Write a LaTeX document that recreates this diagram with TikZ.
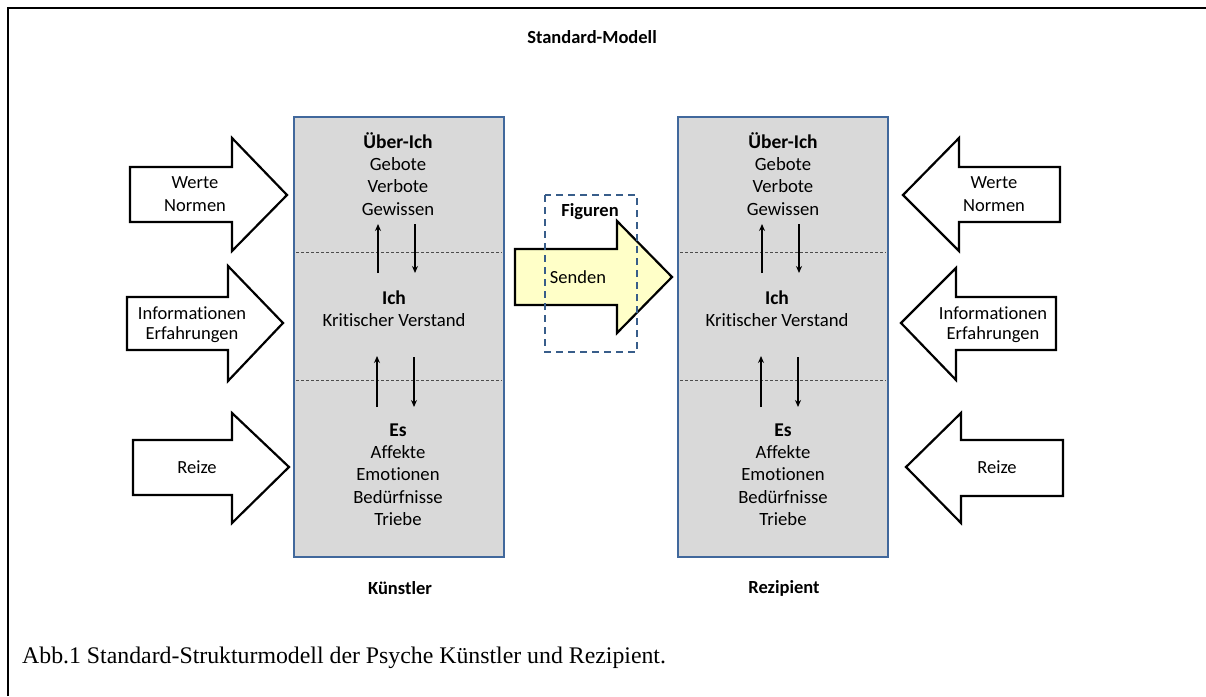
\documentclass[tikz,border=0pt]{standalone}
\usepackage{fontspec}
\usetikzlibrary{arrows.meta}
\setmainfont{Carlito}[Ligatures=NoCommon]
\newfontfamily\capfont{Liberation Serif}
\definecolor{boxfill}{HTML}{D9D9D9}
\definecolor{boxline}{HTML}{41689C}
\definecolor{dashline}{HTML}{385D8A}
\definecolor{sendfill}{HTML}{FFFFC8}
\begin{document}
\begin{tikzpicture}[x=1pt,y=-1pt,
  psybox/.style={draw=boxline,fill=boxfill,line width=2.5pt},
  sep/.style={draw=black!70,dashed,line width=0.7pt,dash pattern=on 3pt off 2pt},
  blockarrow/.style={draw=black,fill=white,line width=2.2pt,line join=miter},
  sendarrow/.style={draw=black,fill=sendfill,line width=2.2pt,line join=miter},
  small/.style={-{Stealth[length=7pt,width=6pt]},line width=1.3pt},
  txt/.style={font=\fontsize{18.7}{22}\selectfont,inner sep=0pt},
  btxt/.style={font=\fontsize{19.5}{22}\selectfont\bfseries,inner sep=0pt},
  atxt/.style={font=\fontsize{18.5}{22}\selectfont,inner sep=0pt},
  ltxt/.style={font=\fontsize{18.5}{22}\selectfont\bfseries,inner sep=0pt}]
\useasboundingbox (0,0) rectangle (1206,696);
% frame
\draw[line width=2pt] (8,696) -- (8,8) -- (1206,8);
\node[ltxt] (title) at (592,37) {Standard-Modell};
% boxes
\path[psybox] (294,117) rectangle (504,557);
\path[psybox] (678,117) rectangle (888,557);
\draw[sep] (296,252) -- (502,252);
\draw[sep] (296,380) -- (502,380);
\draw[sep] (680,252) -- (886,252);
\draw[sep] (680,380) -- (886,380);
% left box texts
\node[btxt] (lu) at (398,141) {Über-Ich};
\node[txt] (lu1) at (398,164) {Gebote};
\node[txt] (lu2) at (398,186) {Verbote};
\node[txt] (lu3) at (398,209) {Gewissen};
\node[btxt] (li) at (394,298) {Ich};
\node[txt] (li1) at (394,320) {Kritischer Verstand};
\node[btxt] (le) at (398,430) {Es};
\node[txt] (le1) at (398,452) {Affekte};
\node[txt] (le2) at (398,474) {Emotionen};
\node[txt] (le3) at (398,497) {Bedürfnisse};
\node[txt] (le4) at (398,519) {Triebe};
% right box texts
\node[btxt] (ru) at (783,141) {Über-Ich};
\node[txt] (ru1) at (783,164) {Gebote};
\node[txt] (ru2) at (783,186) {Verbote};
\node[txt] (ru3) at (783,209) {Gewissen};
\node[btxt] (ri) at (777,298) {Ich};
\node[txt] (ri1) at (777,320) {Kritischer Verstand};
\node[btxt] (re) at (783,430) {Es};
\node[txt] (re1) at (783,452) {Affekte};
\node[txt] (re2) at (783,474) {Emotionen};
\node[txt] (re3) at (783,497) {Bedürfnisse};
\node[txt] (re4) at (783,519) {Triebe};
% small arrows
\coordinate (a1s) at (378,273); \coordinate (a1e) at (378,224);
\coordinate (a2s) at (415,224); \coordinate (a2e) at (415,273);
\coordinate (a3s) at (377,407); \coordinate (a3e) at (377,356);
\coordinate (a4s) at (414,357); \coordinate (a4e) at (414,407);
\coordinate (b1s) at (762,273); \coordinate (b1e) at (762,224);
\coordinate (b2s) at (799,224); \coordinate (b2e) at (799,273);
\coordinate (b3s) at (761,407); \coordinate (b3e) at (761,356);
\coordinate (b4s) at (798,357); \coordinate (b4e) at (798,407);
\foreach \p in {a1,a2,a3,a4,b1,b2,b3,b4} \draw[small] (\p s) -- (\p e);
% left block arrows
\path[blockarrow] (130,167)--(232,167)--(232,138)--(287,195)--(232,251)--(232,222)--(130,222)--cycle;
\path[blockarrow] (127,297)--(228,297)--(228,266)--(283,323)--(228,381)--(228,350)--(127,350)--cycle;
\path[blockarrow] (133,440)--(232,440)--(232,413)--(289,467)--(232,523)--(232,495)--(133,495)--cycle;
\node[atxt] (lw1) at (195,183) {Werte};
\node[atxt] (lw2) at (195,206) {Normen};
\node[atxt] (lf1) at (192,313) {Informationen};
\node[atxt] (lf2) at (192,335) {Erfahrungen};
\node[atxt] (lr) at (197,467) {Reize};
% right block arrows
\path[blockarrow] (1060,167)--(959,167)--(959,138)--(903,195)--(959,251)--(959,222)--(1060,222)--cycle;
\path[blockarrow] (1056,297)--(956,297)--(956,268)--(901,323)--(956,380)--(956,350)--(1056,350)--cycle;
\path[blockarrow] (1063,440)--(961,440)--(961,413)--(906,467)--(961,523)--(961,496)--(1063,496)--cycle;
\node[atxt] (rw1) at (994,183) {Werte};
\node[atxt] (rw2) at (994,206) {Normen};
\node[atxt] (rf1) at (993,313) {Informationen};
\node[atxt] (rf2) at (993,335) {Erfahrungen};
\node[atxt] (rr) at (997,467) {Reize};
% Senden
\path[sendarrow] (515,249)--(617,249)--(617,221)--(672,277)--(617,333)--(617,305)--(515,305)--cycle;
\node[atxt] (send) at (578,277) {Senden};
\draw[draw=dashline,line width=2pt,dash pattern=on 7pt off 5pt] (545,195) rectangle (637,352);
\node[ltxt] (fig) at (590,212) {Figuren};
% labels
\node[ltxt] (kue) at (400,588) {Künstler};
\node[ltxt] (rez) at (784,588) {Rezipient};
\node[anchor=west,inner sep=0pt,font=\capfont\fontsize{23.8}{28}\selectfont] (cap) at (22,658) {Abb.1 Standard-Strukturmodell der Psyche Künstler und Rezipient.};
\end{tikzpicture}
\end{document}
